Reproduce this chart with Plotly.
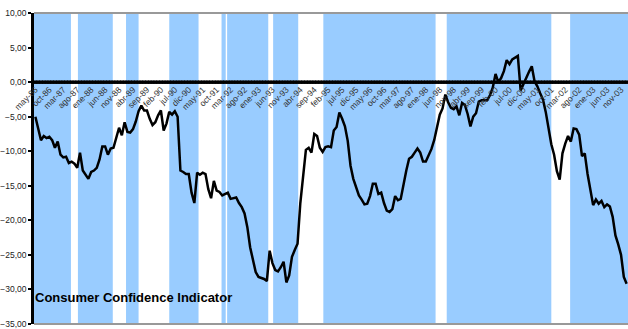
import plotly.graph_objects as go

# ---------------- data ----------------
month_names = ["ene", "feb", "mar", "abr", "may", "jun", "jul", "ago", "sep", "oct", "nov", "dic"]
start_year = 1986
start_month = 5  # May 1986

confidence = [
    -5.0, -6.5, -8.4, -7.8, -8.1, -7.9, -8.4, -9.5, -8.6, -10.5,
    -10.9, -10.8, -11.7, -11.5, -11.8, -12.4, -10.2, -12.8, -13.5, -14.0,
    -13.0, -12.8, -12.4, -11.2, -9.3, -9.3, -10.5, -9.6, -9.5, -8.0,
    -6.6, -7.7, -5.8, -7.2, -7.3, -6.8, -5.7, -4.2, -3.4, -4.1,
    -4.1, -5.3, -6.2, -5.8, -4.8, -4.1, -7.0, -6.0, -4.3, -4.7,
    -4.2, -5.0, -12.8, -13.0, -13.3, -13.3, -16.0, -17.5, -13.1, -13.4,
    -13.1, -13.3, -15.5, -16.8, -14.3, -15.7, -15.9, -16.4, -16.2, -16.0,
    -16.9, -16.8, -16.7, -17.5, -18.1, -19.0, -21.0, -23.9, -25.9, -27.5,
    -28.2, -28.3, -28.5, -28.8, -24.4, -26.2, -27.2, -27.4, -26.8, -26.0,
    -29.0, -28.0, -25.3, -24.3, -23.4, -17.5, -13.2, -9.8, -9.5, -10.2,
    -7.5, -7.8, -9.5, -10.1, -9.4, -9.3, -9.4, -7.0, -6.5, -4.4,
    -5.3, -6.4, -8.5, -12.1, -14.0, -15.2, -16.4, -17.0, -17.7, -17.6,
    -16.5, -14.7, -14.7, -16.2, -16.0, -17.5, -18.6, -18.8, -18.4, -16.5,
    -17.1, -16.9, -14.7, -12.8, -11.1, -10.8, -10.2, -9.6, -10.2, -11.5,
    -11.5, -10.7, -9.7, -8.4, -6.5, -4.7, -3.8, -1.8, -2.9, -3.7,
    -3.9, -3.5, -4.8, -3.0, -3.3, -4.6, -6.4, -5.0, -4.5, -2.8,
    -2.6, -2.6, -2.6, -1.9, -0.8, 1.2, 0.0, 0.6, 1.6, 3.2,
    2.6, 3.3, 3.6, 3.8, -1.2, -0.4, 0.6, 1.5, 2.3, 0.1,
    -0.6, -1.6, -2.5, -4.3, -7.0, -9.0, -10.5, -12.9, -14.1, -10.3,
    -8.9, -7.8, -8.6, -6.7, -6.8, -7.6, -10.7, -10.3, -13.3, -15.3,
    -17.8, -17.0, -17.6, -17.2, -18.1, -17.7, -18.0, -19.5, -22.2, -23.5,
    -25.0, -28.2, -29.2,
]

# shaded periods (month index, start/end edges)
band_start = [-0.5, 15.25, 32.5, 48.0, 66.75, 68.75, 85.25, 103.25, 147.5, 191.75]
band_end = [12.75, 27.75, 37.0, 58.5, 68.25, 83.5, 94.25, 143.5, 185.0, 212.5]

y_min, y_max = -35, 10
y_ticks = [-35, -30, -25, -20, -15, -10, -5, 0, 5, 10]
label_step = 5

# ---------------- derived ----------------
n = len(confidence)
month_idx = list(range(n))
month_labels = []
for k in range(n):
    m = start_month - 1 + k
    yr = start_year + m // 12
    month_labels.append(f"{month_names[m % 12]}-{yr % 100:02d}")

baseline = [0.0] * n

band_center = [(s + e) / 2 for s, e in zip(band_start, band_end)]
band_width = [e - s for s, e in zip(band_start, band_end)]
band_height = [y_max - y_min] * len(band_start)

FONT = "Arial, Liberation Sans, sans-serif"

fig = go.Figure()

fig.add_trace(go.Bar(
    x=band_center, y=band_height, base=y_min, width=band_width,
    marker=dict(color="#99CCFF", line=dict(width=0)),
    showlegend=False, hoverinfo="skip",
))

fig.add_trace(go.Scatter(
    x=month_idx, y=baseline, mode="lines+markers",
    line=dict(color="black", width=1.5),
    marker=dict(symbol="square", size=3.5, color="black"),
    showlegend=False, hoverinfo="skip",
))

fig.add_trace(go.Scatter(
    x=month_idx, y=confidence, mode="lines",
    line=dict(color="black", width=2.5),
    showlegend=False,
))

zero_pos = (0 - y_min) / (y_max - y_min)

fig.update_layout(
    width=628, height=329,
    margin=dict(l=32, r=0, t=13, b=4),
    paper_bgcolor="white", plot_bgcolor="white",
    separators=",.",
    barmode="overlay",
    font=dict(family=FONT, color="#222"),
    xaxis=dict(
        range=[-0.5, n - 0.5],
        anchor="free", position=zero_pos,
        showline=False, showgrid=False, zeroline=False,
        tickmode="array",
        tickvals=month_idx[::label_step],
        ticktext=month_labels[::label_step],
        tickangle=-45, ticks="",
        tickfont=dict(size=8.5, color="#333", family=FONT),
    ),
    yaxis=dict(
        range=[y_min - 0.02, y_max + 0.02],
        tickmode="array",
        tickvals=y_ticks,
        tickformat=".2f",
        ticklabeloverflow="allow",
        showgrid=False, zeroline=False,
        showline=True, linecolor="black", linewidth=2.5,
        ticks="outside", ticklen=3, tickwidth=2, tickcolor="black",
        tickfont=dict(size=8.5, color="#222", family=FONT),
    ),
    shapes=[
        dict(type="line", xref="paper", yref="paper", x0=0, x1=1, y0=1, y1=1,
             line=dict(color="#999999", width=2), layer="above"),
        dict(type="line", xref="paper", yref="paper", x0=0, x1=1, y0=0, y1=0,
             line=dict(color="#999999", width=2), layer="above"),
    ],
    annotations=[
        dict(text="<b>Consumer Confidence Indicator</b>", xref="paper", yref="paper",
             x=-0.002, y=0.0865, xanchor="left", yanchor="middle", showarrow=False,
             font=dict(size=13, color="black", family=FONT)),
    ],
)

fig.write_html("out.html")
